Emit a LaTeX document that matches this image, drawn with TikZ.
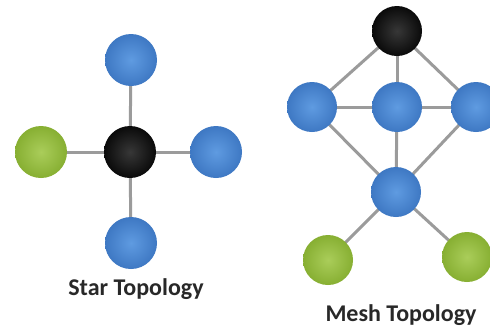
\documentclass[tikz,border=0pt]{standalone}
\usepackage{fontspec}
\setmainfont{Carlito}
\definecolor{nodeblue}{RGB}{62,120,195}
\definecolor{nodebluein}{RGB}{95,155,225}
\definecolor{nodegreen}{RGB}{135,175,50}
\definecolor{nodegreenin}{RGB}{170,205,90}
\definecolor{nodeblack}{RGB}{10,10,10}
\definecolor{nodeblackin}{RGB}{55,55,55}
\definecolor{linkgray}{RGB}{155,155,155}
\definecolor{labelgray}{RGB}{40,40,40}
\begin{document}
\begin{tikzpicture}[x=1pt,y=-1pt,
  ball/.style={circle,minimum size=52pt,inner sep=0pt,draw=none,shading=radial},
  bluenode/.style={ball,inner color=nodebluein,outer color=nodeblue},
  greennode/.style={ball,inner color=nodegreenin,outer color=nodegreen},
  blacknode/.style={ball,inner color=nodeblackin,outer color=nodeblack},
  mball/.style={minimum size=50pt},
  link/.style={draw=linkgray,line width=3pt},
  caption/.style={font=\fontsize{24}{28}\selectfont\bfseries,text=labelgray}]
\useasboundingbox (0,0) rectangle (490,327);
\fill[white] (0,0) rectangle (490,327);
% Star topology
\coordinate (sc) at (130,152);
\coordinate (stopc) at (131,60);
\coordinate (sbotc) at (131,243);
\coordinate (sleftc) at (41,152);
\coordinate (srightc) at (216,152);
\path[link] (stopc) -- (sc) -- (sbotc);
\path[link] (sleftc) -- (sc) -- (srightc);
\node[bluenode] (stop) at (stopc) {};
\node[greennode] (sleft) at (sleftc) {};
\node[bluenode] (sright) at (srightc) {};
\node[bluenode] (sbot) at (sbotc) {};
\node[blacknode] (scenter) at (sc) {};
\node[caption] (slabel) at (136,289) {Star Topology};
% Mesh topology
\coordinate (mtopc) at (397,31);
\coordinate (mleftc) at (312,107);
\coordinate (mmidc) at (397,107);
\coordinate (mrightc) at (476,107);
\coordinate (mlowc) at (396,192);
\coordinate (mg1c) at (328,260);
\coordinate (mg2c) at (467,257);
\path[link] (mtopc) -- (mleftc);
\path[link] (mtopc) -- (mmidc);
\path[link] (mtopc) -- (mrightc);
\path[link] (mleftc) -- (mmidc);
\path[link] (mmidc) -- (mrightc);
\path[link] (mleftc) -- (mlowc);
\path[link] (mmidc) -- (mlowc);
\path[link] (mrightc) -- (mlowc);
\path[link] (mlowc) -- (mg1c);
\path[link] (mlowc) -- (mg2c);
\node[blacknode,mball] (mtop) at (mtopc) {};
\node[bluenode,mball] (mleft) at (mleftc) {};
\node[bluenode,mball] (mmid) at (mmidc) {};
\node[bluenode,mball] (mright) at (mrightc) {};
\node[bluenode,mball] (mlow) at (mlowc) {};
\node[greennode,mball] (mg1) at (mg1c) {};
\node[greennode,mball] (mg2) at (mg2c) {};
\node[caption] (mlabel) at (401,315) {Mesh Topology};
\end{tikzpicture}
\end{document}
